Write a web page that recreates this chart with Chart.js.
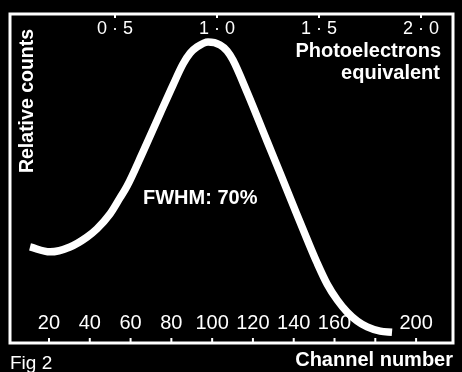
<!DOCTYPE html>
<html>
<head>
<meta charset="utf-8">
<script src="https://cdn.jsdelivr.net/npm/chart.js@4"></script>
<style>
  html, body { margin: 0; padding: 0; background: #000; overflow: hidden; }
</style>
</head>
<body>
<canvas id="chart" width="462" height="372"></canvas>
<script>
// Pulse height spectrum
const channels = [10.7, 20.5, 30.3, 38.6, 43.5, 49.9, 54.8, 58.3, 66.1, 74.4, 80.8, 85.7, 89.2, 92.6, 98.0,
                  103.9, 107.3, 110.2, 117.1, 126.9, 133.3, 139.7, 146.5, 151.5, 156.4, 161.3,
                  166.2, 171.1, 176.0, 182.4, 188.2];
const counts = [29.2, 27.7, 29.2, 32.2, 34.7, 39.2, 44.1, 47.7, 58.1, 69.6, 78.4, 84.8, 88.1, 90.0, 91.5,
                90.6, 88.8, 86.0, 76.3, 61.4, 51.7, 41.9, 31.6, 24.3, 17.9, 13.1,
                9.4, 6.7, 4.9, 3.6, 3.3];

const channelTicks = [20, 40, 60, 80, 100, 120, 140, 160, 180, 200];
const channelTickLabels = ['20', '40', '60', '80', '100', '120', '140', '160', '', '200'];
const photoTicks = [0.5, 1.0, 1.5, 2.0];
const photoTickLabels = ['0 · 5', '1 · 0', '1 · 5', '2 · 0'];

const WHITE = '#ffffff';

// black page + frame, tick marks and all texts
const framePlugin = {
    id: 'frame',
    beforeDraw(chart) {
        const ctx = chart.ctx;
        ctx.save();
        ctx.fillStyle = '#000';
        ctx.fillRect(0, 0, chart.width, chart.height);
        ctx.restore();
    },
    afterDraw(chart) {
        const ctx = chart.ctx;
        const area = chart.chartArea;
        const xs = chart.scales.x;
        const x2 = chart.scales.x2;

        ctx.save();
        ctx.strokeStyle = WHITE;
        ctx.fillStyle = WHITE;

        // frame
        ctx.lineWidth = 3;
        ctx.strokeRect(area.left, area.top, area.right - area.left, area.bottom - area.top);

        // bottom ticks (point up) and labels
        ctx.lineWidth = 2;
        ctx.font = '20px "Liberation Sans", Arial, sans-serif';
        ctx.textAlign = 'center';
        ctx.textBaseline = 'middle';
        channelTicks.forEach((v, i) => {
            const px = xs.getPixelForValue(v);
            ctx.beginPath();
            ctx.moveTo(px, area.bottom);
            ctx.lineTo(px, area.bottom - 5);
            ctx.stroke();
            if (channelTickLabels[i]) ctx.fillText(channelTickLabels[i], px, 323);
        });

        // top ticks (point down) and labels
        ctx.font = '18px "Liberation Sans", Arial, sans-serif';
        photoTicks.forEach((v, i) => {
            const px = x2.getPixelForValue(v);
            ctx.beginPath();
            ctx.moveTo(px, area.top);
            ctx.lineTo(px, area.top + 4);
            ctx.stroke();
            ctx.fillText(photoTickLabels[i], px, 29);
        });

        // axis titles
        ctx.font = 'bold 20px "Liberation Sans", Arial, sans-serif';
        ctx.textAlign = 'right';
        ctx.textBaseline = 'alphabetic';
        ctx.fillText('Photoelectrons', 441, 57);
        ctx.fillText('equivalent', 440, 79);
        ctx.fillText('Channel number', 453, 366);

        ctx.save();
        ctx.translate(33, 101);
        ctx.rotate(-Math.PI / 2);
        ctx.textAlign = 'center';
        ctx.font = 'bold 19.5px "Liberation Sans", Arial, sans-serif';
        ctx.fillText('Relative counts', 0, 0);
        ctx.restore();

        ctx.textAlign = 'left';
        ctx.fillText('FWHM: 70%', 143, 204);

        ctx.font = '19px "Liberation Sans", Arial, sans-serif';
        ctx.fillText('Fig 2', 10, 369);

        ctx.restore();
    }
};

new Chart(document.getElementById('chart'), {
    type: 'line',
    data: {
        datasets: [{
            data: channels.map((c, i) => ({ x: c, y: counts[i] })),
            borderColor: WHITE,
            borderWidth: 7.5,
            borderCapStyle: 'butt',
            borderJoinStyle: 'round',
            pointRadius: 0,
            fill: false,
            cubicInterpolationMode: 'monotone'
        }]
    },
    options: {
        responsive: false,
        animation: false,
        devicePixelRatio: 1,
        layout: { padding: { left: 10, top: 14, right: 9, bottom: 29 } },
        plugins: {
            legend: { display: false },
            tooltip: { enabled: false }
        },
        scales: {
            x: { type: 'linear', min: 0.88, max: 218.1, display: false },
            x2: { type: 'linear', position: 'top', min: -0.0147, max: 2.157, display: false },
            y: { min: 0, max: 100, display: false }
        }
    },
    plugins: [framePlugin]
});
</script>
</body>
</html>
